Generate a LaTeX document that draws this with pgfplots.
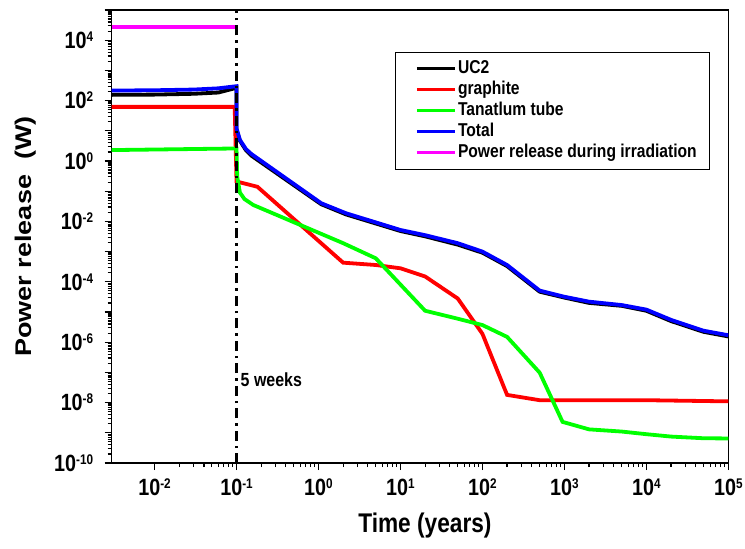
\documentclass[border=0pt]{standalone}
\usepackage{fontspec}
\setmainfont{Liberation Sans}[FakeStretch=0.84]
\newfontfamily\plainfont{Liberation Sans}
\usepackage{pgfplots}
\pgfplotsset{compat=1.18}
\definecolor{mag}{RGB}{255,0,255}
\definecolor{grn}{RGB}{0,255,0}
\definecolor{blu}{RGB}{0,0,255}
\definecolor{rd}{RGB}{255,0,0}
\newcommand\tl[1]{10\raisebox{7pt}{\fontsize{14}{14}\selectfont #1}}
\begin{document}
\begin{tikzpicture}
\begin{axis}[name=ax, xmode=log, ymode=log, scale only axis, width=616.6pt, height=453pt,
  xmin=0.003, xmax=1e5, ymin=1e-10, ymax=1e5,
  xtickten={-2,...,5}, ytickten={-10,...,5},
  xticklabels={\tl{-2},\tl{-1},\tl{0},\tl{1},\tl{2},\tl{3},\tl{4},\tl{5}},
  yticklabels={\tl{-10},,\tl{-8},,\tl{-6},,\tl{-4},,\tl{-2},,\tl{0},,\tl{2},,\tl{4},},
  tick align=outside, tick pos=left,
  major tick length=7pt, minor tick length=4pt,
  tick style={black, line width=1.2pt},
  axis line style={line width=1.5pt},
  tick label style={font=\bfseries\fontsize{23.5}{24}\selectfont},
  xticklabel style={yshift=-5pt},
  yticklabel style={xshift=-8pt},
  xlabel={Time (years)},
  xlabel style={at={(axis description cs:0.508,-0.137)}, anchor=center, font=\bfseries\fontsize{27}{27}\selectfont},
  ylabel={Power release\ \ (W)},
  ylabel style={at={(axis description cs:-0.139,0.5)}, anchor=center, yscale=0.84, font=\plainfont\bfseries\fontsize{27}{27}\selectfont},
  every axis plot/.append style={line width=3.8pt},
  legend style={at={(axis description cs:0.970,0.908)}, anchor=north east, draw=black, line width=1pt,
    font=\bfseries\fontsize{18.6}{20}\selectfont, inner xsep=11pt, inner ysep=6pt,
    nodes={inner sep=1.5pt, text height=14pt, text depth=4pt}},
  legend cell align=left,
  legend image code/.code={\path (0pt,0pt); \draw[#1, line width=3.5pt] (8pt,0pt) -- (46pt,0pt);},
]
\addplot[black] coordinates {(0.003,155) (0.01,158) (0.03,168) (0.06,185) (0.1,265) (0.1,11) (0.11,4.7) (0.13,2.3) (0.152,1.5) (1.08,0.037) (2.17,0.017) (10,0.0048) (20,0.0032) (50,0.0017) (100,0.00092) (200,0.00033) (500,4.7e-5) (1000,3.0e-5) (2000,2.0e-5) (5000,1.6e-5) (1e4,1.1e-5) (2e4,5e-6) (5e4,2.2e-6) (1e5,1.55e-6)};
\addlegendentry{UC2}
\addplot[rd] coordinates {(0.003,62) (0.095,62) (0.1,0.21) (0.18,0.14) (2,4.3e-4) (5,3.6e-4) (10,2.8e-4) (20,1.5e-4) (50,2.8e-5) (100,1.9e-6) (200,1.8e-8) (500,1.2e-8) (1e4,1.2e-8) (1e5,1.1e-8)};
\addlegendentry{graphite}
\addplot[grn] coordinates {(0.003,2.3) (0.1,2.6) (0.102,0.3) (0.11,0.09) (0.125,0.055) (0.16,0.035) (2,1.9e-3) (5,6e-4) (20,1.1e-5) (50,6e-6) (100,3.7e-6) (200,1.5e-6) (500,9.8e-8) (950,2.3e-9) (2000,1.3e-9) (5000,1.1e-9) (1e4,9e-10) (2e4,7.5e-10) (5e4,6.6e-10) (1e5,6.5e-10)};
\addlegendentry{Tanatlum tube}
\addplot[blu] coordinates {(0.003,215) (0.01,220) (0.03,232) (0.06,255) (0.1,300) (0.1,12) (0.11,5) (0.13,2.5) (0.152,1.7) (1.08,0.04) (2.17,0.0186) (10,0.0052) (20,0.0035) (50,0.0019) (100,0.001) (200,3.6e-4) (500,5.1e-5) (1000,3.2e-5) (2000,2.2e-5) (5000,1.7e-5) (1e4,1.2e-5) (2e4,5.5e-6) (5e4,2.4e-6) (1e5,1.7e-6)};
\addlegendentry{Total}
\addplot[mag] coordinates {(0.003,2.8e4) (0.1,2.8e4)};
\addlegendentry{Power release during irradiation}
\addplot[black, line width=2.5pt, dash pattern=on 10pt off 5pt on 2.5pt off 5pt, forget plot] coordinates {(0.1,1e-10) (0.1,1e5)};
\node[anchor=west, font=\bfseries\fontsize{19}{20}\selectfont, inner sep=1pt, xshift=3pt] at (axis cs:0.1,5.6e-8) {5 weeks};
\end{axis}
\pgfresetboundingbox
\path (ax.south west) ++(-111.7pt,-86pt) rectangle ++(745pt,549pt);
\end{tikzpicture}
\end{document}
